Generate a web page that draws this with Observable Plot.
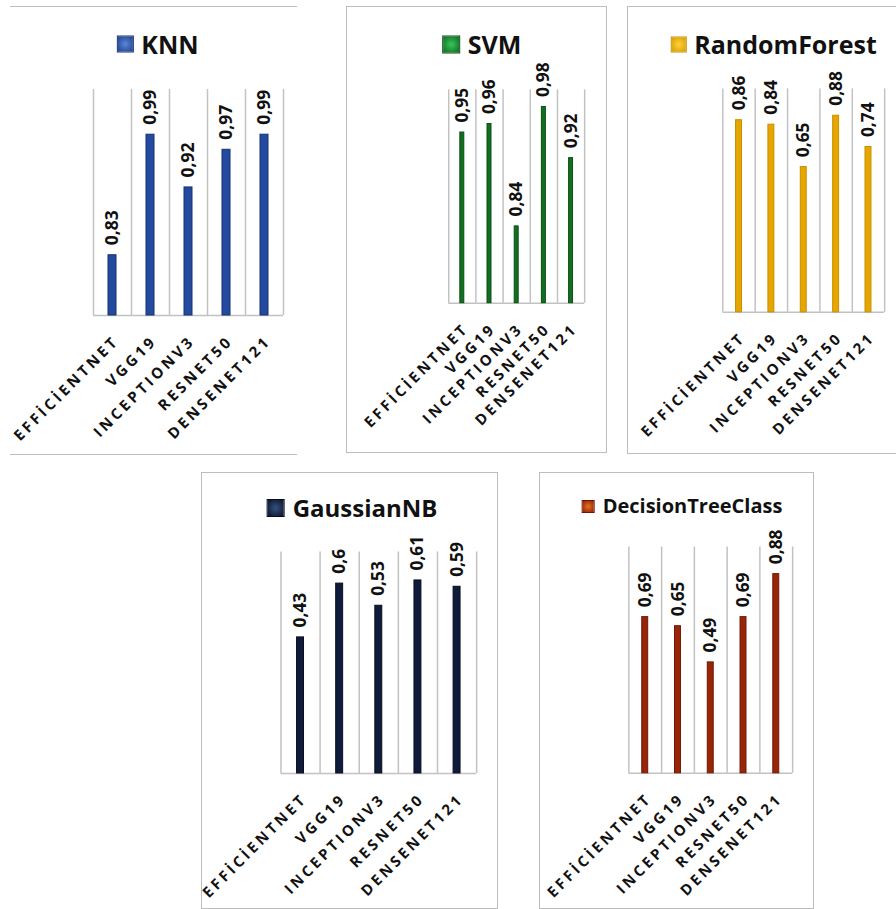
<!DOCTYPE html>
<html>
<head>
<meta charset="utf-8">
<script src="https://cdn.jsdelivr.net/npm/d3@7"></script>
<script src="https://cdn.jsdelivr.net/npm/@observablehq/plot@0.6"></script>
<style>
  body { margin: 0; background: #fff; }
  #page { position: relative; width: 896px; height: 909px; overflow: hidden; font-family: "Open Sans", sans-serif; }
  .panel { position: absolute; box-sizing: border-box; }
  .panel svg { position: absolute; left: 0; top: 0; }
  .title { position: absolute; display: flex; align-items: center; white-space: nowrap;
           font-weight: 700; color: #111; line-height: 1; transform: translate(-50%, -50%); }
  .swatch { display: inline-block; box-sizing: border-box; }
</style>
</head>
<body>
<div id="page"></div>
<script>
// Accuracy of five classifiers on features from five CNN backbones
const models = ["EFFİCİENTNET", "VGG19", "INCEPTIONV3", "RESNET50", "DENSENET121"];
const classifierNames = ["KNN", "SVM", "RandomForest", "GaussianNB", "DecisionTreeClass"];
const knn = [0.83, 0.99, 0.92, 0.97, 0.99];
const svm = [0.95, 0.96, 0.84, 0.98, 0.92];
const randomForest = [0.86, 0.84, 0.65, 0.88, 0.74];
const gaussianNB = [0.43, 0.6, 0.53, 0.61, 0.59];
const decisionTree = [0.69, 0.65, 0.49, 0.69, 0.88];
const yDomains = [[0.75, 1.05], [0.75, 1.0], [0, 1], [0, 0.7], [0, 1]];

// Layout and styling of each small chart (page pixel coordinates)
const panels = [
  { values: knn, fill: "#234a9f", edge: "#163373", swatch: "radial-gradient(circle, #5b86d6, #1e3f8e)",
    box: [10, 6, 297, 455], border: "tb", plot: [93, 283, 88, 314], barW: 8,
    title: { cx: 157.5, cy: 43, size: 25, sq: 17 } },
  { values: svm, fill: "#11701f", edge: "#0a4d14", swatch: "radial-gradient(circle, #3cc45a, #0b6a1e)",
    box: [346, 6, 607, 453], border: "all", plot: [448, 585, 89, 304], barW: 4,
    title: { cx: 480.5, cy: 43, size: 25, sq: 18 } },
  { values: randomForest, fill: "#e6a600", edge: "#c98f00", swatch: "radial-gradient(circle, #ffd23a, #d99c00)",
    box: [627, 6, 910, 454], border: "all", plot: [722, 885, 88, 313], barW: 6,
    title: { cx: 772.5, cy: 43, size: 25, sq: 16 } },
  { values: gaussianNB, fill: "#0f1b3a", edge: "#070d1e", swatch: "radial-gradient(circle, #35507e, #0a1226)",
    box: [201, 472, 498, 909], border: "all", plot: [280, 477, 551, 774], barW: 7,
    title: { cx: 351, cy: 507, size: 24, sq: 18 } },
  { values: decisionTree, fill: "#992508", edge: "#6e1804", swatch: "radial-gradient(circle, #e8721f, #8c1f05)",
    box: [539, 472, 814, 909], border: "all", plot: [628, 793, 546, 774], barW: 6,
    title: { cx: 681, cy: 505, size: 20, sq: 13 } }
];

const gridColor = "#c2c2c2";
const fmt = v => String(v).replace(".", ",");
const page = document.getElementById("page");

panels.forEach((p, k) => {
  const [bl, bt, br, bb] = p.box;
  const [x0, x1, y0, y1] = p.plot;
  const W = br - bl, H = bb - bt;
  const yMin = yDomains[k][0];
  const bw = (x1 - x0) / models.length;
  const inset = (bw - p.barW) / 2;
  const rows = models.map((m, i) => ({ model: m, value: p.values[i] }));

  const wrap = document.createElement("div");
  wrap.className = "panel";
  Object.assign(wrap.style, { left: bl + "px", top: bt + "px", width: W + "px", height: H + "px" });
  if (p.border === "all") wrap.style.border = "1.5px solid #bdbdbd";
  else { wrap.style.borderTop = "1.5px solid #bdbdbd"; wrap.style.borderBottom = "1.5px solid #bdbdbd"; }

  const svg = Plot.plot({
    width: W, height: H,
    marginLeft: x0 - bl, marginRight: br - x1, marginTop: y0 - bt, marginBottom: bb - y1,
    x: { type: "band", domain: models, padding: 0, round: false, axis: null },
    y: { domain: yDomains[k], axis: null },
    style: { background: "transparent", overflow: "visible", fontFamily: "Open Sans" },
    marks: [
      Plot.ruleX(models, { x: d => d, dx: -bw / 2, stroke: gridColor, strokeWidth: 1.5 }),
      Plot.ruleX(models.slice(-1), { x: d => d, dx: bw / 2, stroke: gridColor, strokeWidth: 1.5 }),
      Plot.ruleY([yMin], { stroke: gridColor, strokeWidth: 1.5 }),
      Plot.barY(rows, { x: "model", y1: () => yMin, y2: "value", fill: p.fill, stroke: p.edge, strokeWidth: 1,
                        insetLeft: inset, insetRight: inset }),
      Plot.text(rows, { x: "model", y: "value", text: d => fmt(d.value), rotate: -90, textAnchor: "start",
                        lineAnchor: "middle", dy: -10, fontSize: 17.5, fontWeight: "bold", fill: "#111" }),
      Plot.text(models, { x: d => d, y: () => yMin, text: d => d, rotate: -45, textAnchor: "end",
                          lineAnchor: "middle", dx: 4, dy: 23, fontSize: 15, fontWeight: "bold", fill: "#111" })
    ]
  });
  const textGroups = svg.querySelectorAll('g[aria-label="text"]');
  textGroups[textGroups.length - 1].style.letterSpacing = "3.2px";
  wrap.appendChild(svg);

  const t = document.createElement("div");
  t.className = "title";
  Object.assign(t.style, { left: (p.title.cx - bl) + "px", top: (p.title.cy - bt) + "px", fontSize: p.title.size + "px" });
  const sw = document.createElement("span");
  sw.className = "swatch";
  Object.assign(sw.style, { width: p.title.sq + "px", height: p.title.sq + "px", background: p.swatch,
                            border: "1px solid " + p.edge, marginRight: "8px" });
  const label = document.createElement("span");
  label.textContent = classifierNames[k];
  t.appendChild(sw);
  t.appendChild(label);
  wrap.appendChild(t);

  page.appendChild(wrap);
});
</script>
</body>
</html>
